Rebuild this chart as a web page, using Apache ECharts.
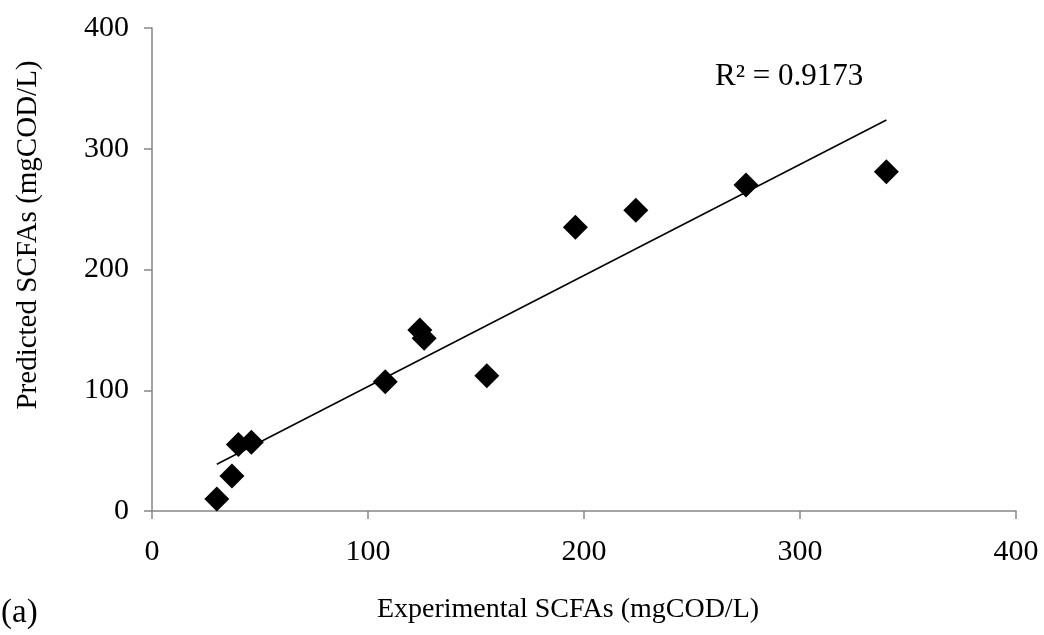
<!DOCTYPE html>
<html>
<head>
<meta charset="utf-8">
<script src="https://cdn.jsdelivr.net/npm/echarts@6/dist/echarts.min.js"></script>
<style>
    html, body { margin: 0; padding: 0; background: #fff; }
    #chart { width: 1044px; height: 635px; }
</style>
</head>
<body>
<div id="chart"></div>
<script>
// 实验值 / 预测值
const experimental = [30, 37, 40, 46, 108, 124, 126, 155, 196, 224, 275, 340];
const predicted = [10, 29, 55, 57, 107, 150, 143, 112, 235, 249, 270, 281];
const axisTicks = [0, 100, 200, 300, 400];
const r2Label = 'R² = 0.9173';

const FontFamily = '"Liberation Serif", "Times New Roman", serif';
const AxisColor = '#868686';

// 线性趋势线 (最小二乘)
const n = experimental.length;
const mx = experimental.reduce((a, b) => a + b, 0) / n;
const my = predicted.reduce((a, b) => a + b, 0) / n;
let sxy = 0, sxx = 0;
experimental.forEach((x, i) => {
    sxy += (x - mx) * (predicted[i] - my);
    sxx += (x - mx) * (x - mx);
});
const slope = sxy / sxx;
const intercept = my - slope * mx;
const xMin = Math.min(...experimental);
const xMax = Math.max(...experimental);
const trendLine = [[xMin, intercept + slope * xMin], [xMax, intercept + slope * xMax]];

const myChart = echarts.init(document.getElementById('chart'));

const axisCommon = {
    type: 'value',
    min: axisTicks[0],
    max: axisTicks[axisTicks.length - 1],
    interval: 100,
    axisLine: { show: true, lineStyle: { color: AxisColor, width: 1.5 } },
    axisTick: { show: true, inside: false, length: 8, lineStyle: { color: AxisColor, width: 1.5 } },
    splitLine: { show: false },
    axisLabel: { color: '#000', fontFamily: FontFamily, fontSize: 30 }
};

const option = {
    animation: false,
    grid: { left: 152, right: 28, top: 28, bottom: 124, containLabel: false },
    xAxis: {
        ...axisCommon,
        axisLabel: { ...axisCommon.axisLabel, margin: 26 }
    },
    yAxis: {
        ...axisCommon,
        axisLabel: { ...axisCommon.axisLabel, margin: 23 }
    },
    graphic: [
        {
            type: 'text',
            x: 28, y: 235,
            rotation: Math.PI / 2,
            style: {
                text: 'Predicted SCFAs (mgCOD/L)',
                font: '29px ' + FontFamily,
                fill: '#000',
                align: 'center',
                verticalAlign: 'middle'
            }
        },
        {
            type: 'text',
            x: 568, y: 610,
            style: {
                text: 'Experimental SCFAs (mgCOD/L)',
                font: '28px ' + FontFamily,
                fill: '#000',
                align: 'center',
                verticalAlign: 'middle'
            }
        },
        {
            type: 'text',
            x: 1, y: 613,
            style: {
                text: '(a)',
                font: '33px ' + FontFamily,
                fill: '#000',
                align: 'left',
                verticalAlign: 'middle'
            }
        },
        {
            type: 'text',
            x: 715, y: 77,
            style: {
                text: r2Label,
                font: '31px ' + FontFamily,
                fill: '#000',
                align: 'left',
                verticalAlign: 'middle'
            }
        }
    ],
    series: [
        {
            type: 'line',
            data: trendLine,
            symbol: 'none',
            lineStyle: { color: '#000', width: 1.5 },
            z: 1
        },
        {
            type: 'scatter',
            data: experimental.map((x, i) => [x, predicted[i]]),
            symbol: 'diamond',
            symbolSize: 25,
            itemStyle: { color: '#000', opacity: 1 },
            z: 2
        }
    ]
};

myChart.setOption(option);
</script>
</body>
</html>
